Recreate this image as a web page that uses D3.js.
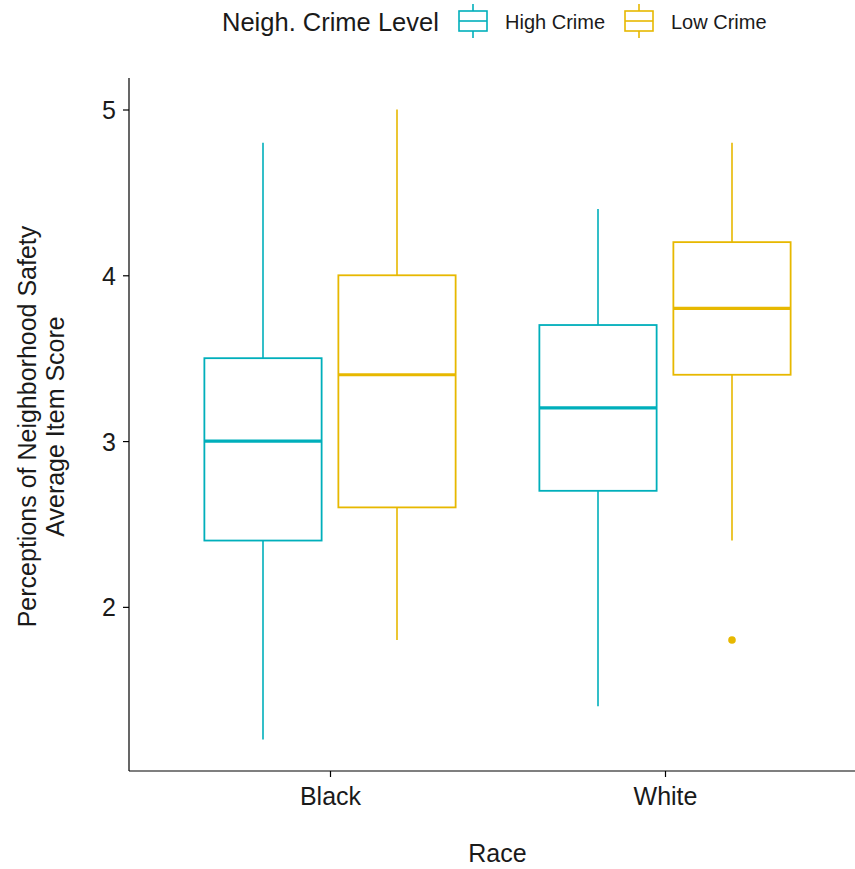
<!DOCTYPE html>
<html>
<head>
<meta charset="utf-8">
<script src="https://cdn.jsdelivr.net/npm/d3@7"></script>
<style>
  html, body { margin: 0; padding: 0; background: #fff; }
  svg { display: block; font-family: "Liberation Sans", Arial, sans-serif; }
</style>
</head>
<body>
<svg id="chart" width="855" height="869"></svg>
<script>
// Categories and groups
const races = ["Black", "White"];
const crimeLevels = ["High Crime", "Low Crime"];
const levelColors = ["#00AFBB", "#E7B800"];

// Box summaries per race, one entry per crime level (same order as crimeLevels)
const lowerWhisker = { Black: [1.2, 1.8], White: [1.4, 2.4] };
const q1Values     = { Black: [2.4, 2.6], White: [2.7, 3.4] };
const medianValues = { Black: [3.0, 3.4], White: [3.2, 3.8] };
const q3Values     = { Black: [3.5, 4.0], White: [3.7, 4.2] };
const upperWhisker = { Black: [4.8, 5.0], White: [4.4, 4.8] };
const outlierValues = [
  { race: "White", level: "Low Crime", value: 1.8 }
];

const yTicks = [2, 3, 4, 5];
const yLabel = ["Perceptions of Neighborhood Safety", "Average Item Score"];
const xLabel = "Race";
const legendTitle = "Neigh. Crime Level";

const svg = d3.select("#chart");
const panel = { left: 129, right: 866, top: 78, bottom: 771 };

const x = d3.scalePoint().domain(races).range([panel.left, panel.right]).padding(0.6);
const step = x.step();
const dodge = d3.scaleBand().domain(crimeLevels).range([-0.4 * step, 0.4 * step]);
const boxHalf = 0.175 * step;

const y = d3.scaleLinear().domain([1.01, 5.19]).range([panel.bottom, panel.top]);
const color = d3.scaleOrdinal().domain(crimeLevels).range(levelColors);

// Build box records
const boxes = [];
races.forEach(r => crimeLevels.forEach((lv, i) => {
  boxes.push({
    race: r, level: lv,
    lo: lowerWhisker[r][i], q1: q1Values[r][i], med: medianValues[r][i],
    q3: q3Values[r][i], hi: upperWhisker[r][i]
  });
}));
const cx = d => x(d.race) + dodge(d.level) + dodge.bandwidth() / 2;

const g = svg.append("g");
const bx = g.selectAll("g.box").data(boxes).join("g").attr("class", "box");

bx.append("line")
  .attr("x1", cx).attr("x2", cx)
  .attr("y1", d => y(d.hi)).attr("y2", d => y(d.q3))
  .attr("stroke", d => color(d.level)).attr("stroke-width", 1.6);
bx.append("line")
  .attr("x1", cx).attr("x2", cx)
  .attr("y1", d => y(d.q1)).attr("y2", d => y(d.lo))
  .attr("stroke", d => color(d.level)).attr("stroke-width", 1.6);
bx.append("rect")
  .attr("x", d => cx(d) - boxHalf).attr("width", 2 * boxHalf)
  .attr("y", d => y(d.q3)).attr("height", d => y(d.q1) - y(d.q3))
  .attr("fill", "#fff").attr("stroke", d => color(d.level)).attr("stroke-width", 1.8);
bx.append("line")
  .attr("x1", d => cx(d) - boxHalf).attr("x2", d => cx(d) + boxHalf)
  .attr("y1", d => y(d.med)).attr("y2", d => y(d.med))
  .attr("stroke", d => color(d.level)).attr("stroke-width", 3.2);

g.selectAll("circle.out").data(outlierValues).join("circle")
  .attr("class", "out")
  .attr("cx", cx).attr("cy", d => y(d.value)).attr("r", 3.8)
  .attr("fill", d => color(d.level));

// Axes
const yAxis = svg.append("g")
  .attr("transform", `translate(${panel.left},0)`)
  .call(d3.axisLeft(y).tickValues(yTicks).tickFormat(d3.format("d")).tickSize(6).tickPadding(7));
yAxis.select(".domain").attr("d", `M0,${panel.top}V${panel.bottom}`);
const xAxis = svg.append("g")
  .attr("transform", `translate(0,${panel.bottom})`)
  .call(d3.axisBottom(x).tickSize(6).tickPadding(10));
xAxis.select(".domain").attr("d", `M${panel.left},0H${panel.right}`);

[yAxis, xAxis].forEach(a => {
  a.select(".domain").attr("stroke", "#000").attr("stroke-width", 1.2);
  a.selectAll(".tick line").attr("stroke", "#000").attr("stroke-width", 1.2);
  a.selectAll(".tick text").attr("fill", "#1a1a1a")
    .style("font-size", "25px").style("font-family", "Liberation Sans, Arial, sans-serif");
});
yAxis.selectAll(".tick text").attr("dy", "0.36em");

// Axis titles
svg.append("text")
  .attr("x", (panel.left + panel.right) / 2).attr("y", 862)
  .attr("text-anchor", "middle").attr("fill", "#1a1a1a")
  .style("font-size", "25px").text(xLabel);

const yMid = (panel.top + panel.bottom) / 2 + 2;
yLabel.forEach((t, i) => {
  svg.append("text")
    .attr("transform", `translate(${36 + i * 28},${yMid}) rotate(-90)`)
    .attr("text-anchor", "middle").attr("fill", "#1a1a1a")
    .style("font-size", "25px").text(t);
});

// Legend
const leg = svg.append("g");
leg.append("text").attr("x", 222).attr("y", 31)
  .attr("fill", "#1a1a1a").style("font-size", "25.5px").text(legendTitle);

const keyX = [458, 624];
const labelX = [505, 671];
crimeLevels.forEach((lv, i) => {
  const k = leg.append("g").attr("transform", `translate(${keyX[i]},0)`);
  const c = color(lv);
  k.append("line").attr("x1", 15).attr("x2", 15).attr("y1", 4).attr("y2", 11)
    .attr("stroke", c).attr("stroke-width", 1.6);
  k.append("line").attr("x1", 15).attr("x2", 15).attr("y1", 31).attr("y2", 38)
    .attr("stroke", c).attr("stroke-width", 1.6);
  k.append("rect").attr("x", 1).attr("y", 11).attr("width", 28).attr("height", 20)
    .attr("fill", "#fff").attr("stroke", c).attr("stroke-width", 1.6);
  k.append("line").attr("x1", 1).attr("x2", 29).attr("y1", 21).attr("y2", 21)
    .attr("stroke", c).attr("stroke-width", 1.6);
  leg.append("text").attr("x", labelX[i]).attr("y", 29)
    .attr("fill", "#1a1a1a").style("font-size", "20px").text(lv);
});
</script>
</body>
</html>
